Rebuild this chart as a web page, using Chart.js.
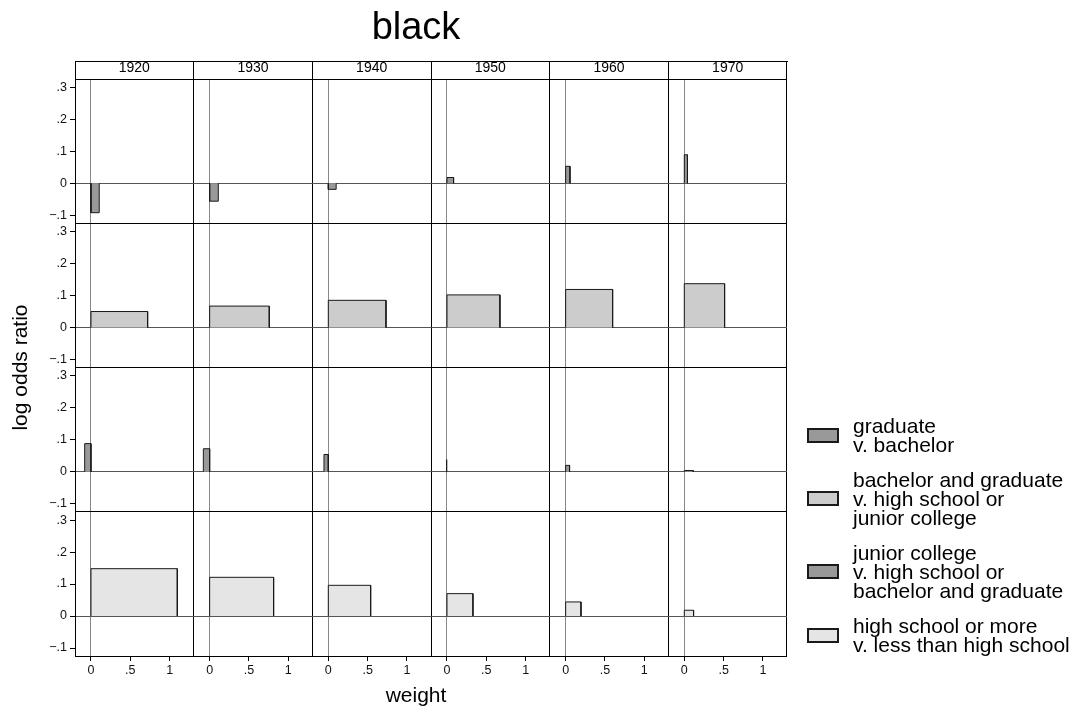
<!DOCTYPE html>
<html>
<head>
<meta charset="utf-8">
<title>black</title>
<script src="https://cdn.jsdelivr.net/npm/chart.js@4/dist/chart.umd.min.js"></script>
<style>
  html, body { margin: 0; padding: 0; background: #fff; }
  #wrap { position: relative; width: 1086px; height: 715px; }
  #legend {
    position: absolute; left: 807px; top: 416px;
    font-family: 'Liberation Sans', Arial, sans-serif;
    font-size: 21px; line-height: 19px; color: #000;
  }
  .item { display: flex; align-items: center; margin-bottom: 16px; }
  .swatch { width: 32px; height: 15px; box-sizing: border-box; border: 2px solid #1a1a1a; flex: none; }
  .label { margin-left: 14px; white-space: nowrap; }
</style>
</head>
<body>
<div id="wrap">
  <canvas id="chart" width="1086" height="715"></canvas>
  <div id="legend"></div>
</div>
<script>
/* data */
const cohorts = ['1920', '1930', '1940', '1950', '1960', '1970'];
const contrasts = [
    ['graduate', 'v. bachelor'],
    ['bachelor and graduate', 'v. high school or', 'junior college'],
    ['junior college', 'v. high school or', 'bachelor and graduate'],
    ['high school or more', 'v. less than high school']
];

// log odds ratio (bar height) by cohort
const gradVsBach = [-0.092, -0.056, -0.019, 0.018, 0.053, 0.089];
const bachVsHs = [0.050, 0.067, 0.085, 0.102, 0.119, 0.137];
const jcVsHs = [0.088, 0.072, 0.054, 0.038, 0.020, 0.004];
const hsVsLess = [0.148, 0.121, 0.096, 0.070, 0.044, 0.018];

// weight (bar width) by cohort
const gradVsBachW = [0.105, 0.110, 0.100, 0.084, 0.055, 0.040];
const bachVsHsW = [0.720, 0.758, 0.733, 0.673, 0.597, 0.512];
const jcVsHsW = [-0.080, -0.080, -0.055, -0.012, 0.050, 0.114];
const hsVsLessW = [1.097, 0.813, 0.538, 0.330, 0.195, 0.118];

const xTicks = [0, 0.5, 1];
const yTicks = [-0.1, 0, 0.1, 0.2, 0.3];
const X_MIN = -0.203, X_MAX = 1.305;
const Y_MIN = -0.125, Y_MAX = 0.326;

const heights = [gradVsBach, bachVsHs, jcVsHs, hsVsLess];
const weights = [gradVsBachW, bachVsHsW, jcVsHsW, hsVsLessW];
const fills = ['#999999', '#cccccc', '#999999', '#e5e5e5'];

Chart.defaults.font.family = "'Liberation Sans', Arial, sans-serif";
Chart.defaults.color = '#000';

function fmt(v) {
    if (v === 0) return '0';
    const s = Math.abs(v).toFixed(1).replace(/^0/, '').replace(/\.0$/, '');
    return (v < 0 ? '\u2212' : '') + s;
}
const near = (a, b) => Math.abs(a - b) < 1e-9;
const isEdge = (v, lo, hi) => near(v, lo) || near(v, hi);
const none = 'rgba(0,0,0,0)';

const scales = {};

// one bottom axis per cohort column, stacked side by side
cohorts.forEach((year, i) => {
    scales['x' + i] = {
        type: 'linear', axis: 'x', position: 'bottom', stack: 'cols', weight: i / 100,
        min: X_MIN, max: X_MAX,
        afterBuildTicks: a => { a.ticks = [X_MIN, ...xTicks, X_MAX].map(v => ({value: v})); },
        afterFit: a => { a.height = 22; },
        ticks: {
            autoSkip: false, maxRotation: 0, padding: 2, color: '#111', font: {size: 12.5},
            callback: v => isEdge(v, X_MIN, X_MAX) ? '' : fmt(v)
        },
        grid: {
            lineWidth: 1, tickLength: 5,
            color: ctx => isEdge(ctx.tick.value, X_MIN, X_MAX) ? '#000' : (ctx.tick.value === 0 ? '#888' : none),
            tickColor: ctx => isEdge(ctx.tick.value, X_MIN, X_MAX) ? none : '#000'
        },
        border: {display: true, color: '#000'}
    };
    // strip header with the cohort
    scales['s' + i] = {
        type: 'linear', axis: 'x', position: 'top', stack: 'strip', weight: (5 - i) / 100,
        min: X_MIN, max: X_MAX,
        afterBuildTicks: a => { a.ticks = [{value: X_MIN}, {value: X_MAX}]; },
        afterFit: a => { a.height = 18; },
        ticks: {display: false},
        grid: {drawOnChartArea: false, color: '#000', tickLength: 18},
        border: {display: false},
        title: {display: true, text: year, color: '#000', font: {size: 14}, padding: {top: -1, bottom: 0}}
    };
});

// one left axis per contrast row, stacked top to bottom
heights.forEach((_, r) => {
    scales['y' + r] = {
        type: 'linear', axis: 'y', position: 'left', stack: 'rows', weight: (3 - r) / 100,
        min: Y_MIN, max: Y_MAX,
        afterBuildTicks: a => { a.ticks = [Y_MIN, ...yTicks, Y_MAX].map(v => ({value: v})); },
        afterFit: a => { a.width = 26; },
        ticks: {
            autoSkip: false, padding: 3, color: '#111', font: {size: 12.5},
            callback: v => isEdge(v, Y_MIN, Y_MAX) ? '' : fmt(v)
        },
        grid: {
            lineWidth: 1, tickLength: 5,
            color: ctx => isEdge(ctx.tick.value, Y_MIN, Y_MAX) ? '#000' : (ctx.tick.value === 0 ? '#555' : none),
            tickColor: ctx => isEdge(ctx.tick.value, Y_MIN, Y_MAX) ? none : '#000'
        },
        border: {display: true, color: '#000'}
    };
});

// axis title on the left, top line of the strip, spacer on the right
scales.yt = {
    type: 'linear', axis: 'y', position: 'left', weight: 1, min: 0, max: 1,
    afterFit: a => { a.width = 49; },
    ticks: {display: false}, grid: {display: false}, border: {display: false},
    title: {display: true, text: 'log odds ratio', color: '#000', font: {size: 21}, padding: {top: 9, bottom: 0}}
};
scales.tl = {
    type: 'linear', axis: 'x', position: 'top', weight: 1, min: 0, max: 1,
    afterFit: a => { a.height = 0; },
    ticks: {display: false}, grid: {display: false},
    border: {display: true, color: '#000', width: 1}
};
scales.yr = {
    type: 'linear', axis: 'y', position: 'right', weight: 1, min: 0, max: 1,
    afterFit: a => { a.width = 45; },
    ticks: {display: false}, grid: {display: false}, border: {display: false}
};

// each bar is an outline filled down to zero, width = weight, height = log odds ratio
const datasets = [];
heights.forEach((vals, r) => {
    vals.forEach((v, c) => {
        const w = weights[r][c];
        const x0 = Math.min(0, w), x1 = Math.max(0, w);
        datasets.push({
            label: contrasts[r].join(' ') + ', ' + cohorts[c],
            data: [{x: x0, y: 0}, {x: x0, y: v}, {x: x1, y: v}, {x: x1, y: 0}],
            xAxisID: 'x' + c,
            yAxisID: 'y' + r,
            fill: {value: 0},
            backgroundColor: fills[r],
            borderColor: '#1a1a1a',
            borderWidth: 1,
            pointRadius: 0,
            pointHoverRadius: 0,
            tension: 0
        });
    });
});

const chart = new Chart(document.getElementById('chart'), {
    type: 'line',
    data: {datasets: datasets},
    options: {
        responsive: false,
        animation: false,
        events: [],
        layout: {autoPadding: false, padding: {left: 0, top: 0, bottom: 0, right: 254}},
        scales: scales,
        plugins: {
            legend: {display: false},
            tooltip: {enabled: false},
            title: {
                display: true, text: 'black', color: '#000',
                font: {size: 38, weight: 'normal'},
                padding: {top: 6, bottom: 9.4}
            },
            subtitle: {
                display: true, position: 'bottom', text: 'weight', color: '#000',
                font: {size: 21, weight: 'normal'},
                padding: {top: 6.1, bottom: 5.7}
            }
        }
    }
});

// legend, one entry per contrast
const legendEl = document.getElementById('legend');
contrasts.forEach((lines, i) => {
    const item = document.createElement('div');
    item.className = 'item';
    const sw = document.createElement('div');
    sw.className = 'swatch';
    sw.style.background = fills[i];
    const label = document.createElement('div');
    label.className = 'label';
    lines.forEach((t, k) => {
        if (k) label.appendChild(document.createElement('br'));
        label.appendChild(document.createTextNode(t));
    });
    item.appendChild(sw);
    item.appendChild(label);
    legendEl.appendChild(item);
});
</script>
</body>
</html>
